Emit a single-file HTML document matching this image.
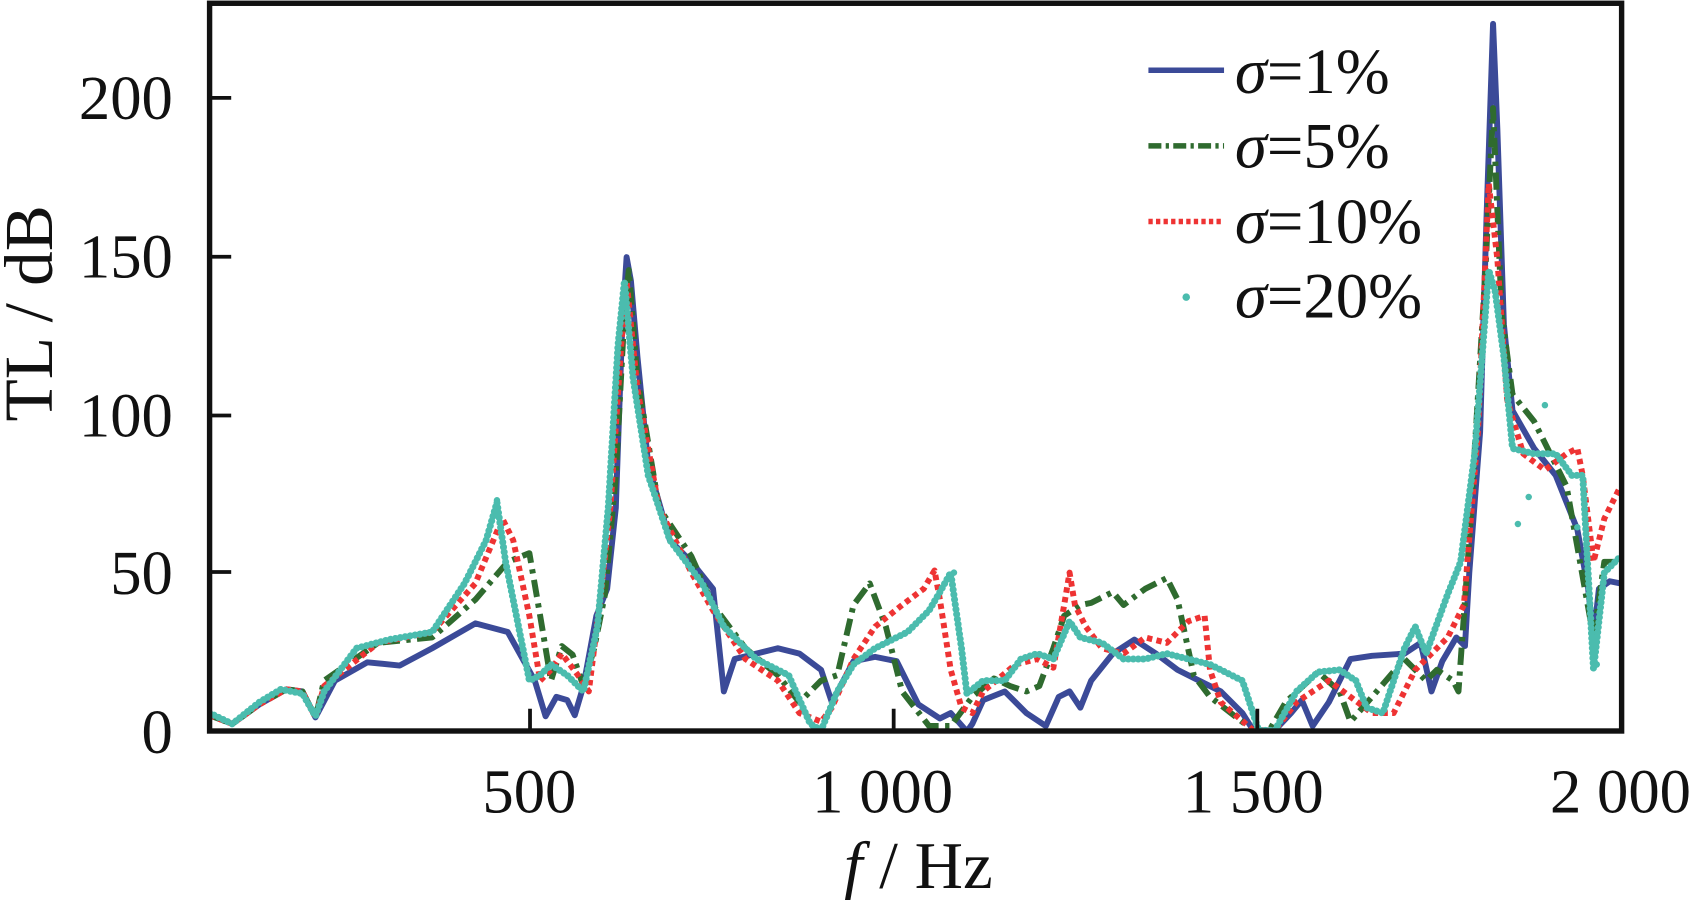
<!DOCTYPE html>
<html><head><meta charset="utf-8"><style>
html,body{margin:0;padding:0;background:#fff;}
svg{display:block;}
text{font-family:"Liberation Serif",serif;fill:#111;}
</style></head><body>
<svg width="1694" height="900" viewBox="0 0 1568 833" xmlns="http://www.w3.org/2000/svg">
<rect x="0" y="0" width="1568" height="833" fill="#fff"/>
<defs><clipPath id="c"><rect x="194" y="3" width="1307" height="674"/></clipPath></defs>
<g clip-path="url(#c)" fill="none" stroke-linejoin="round">
<polyline stroke="#3b4a98" stroke-width="5.5" points="194,662 215,670 240,652 265,638 280,640 292,664 310,630 340,613 370,616 400,600 440,577 470,585 495,630 505,663 515,645 525,648 532,662 540,635 552,570 562,545 570,470 576,300 580,238 584,260 590,330 600,430 620,500 640,520 660,545 670,640 680,610 700,605 720,600 740,605 760,620 770,650 790,612 810,608 830,612 850,652 870,665 880,660 895,677 900,670 910,648 930,640 950,660 968,672 980,645 990,640 1000,655 1010,630 1030,605 1050,592 1070,605 1090,620 1110,630 1130,640 1150,660 1160,676 1180,676 1195,660 1205,648 1215,672 1230,650 1250,610 1270,607 1300,605 1315,595 1325,640 1335,612 1348,590 1356,598 1360,530 1370,400 1376,200 1382,22 1386,120 1392,300 1400,380 1420,415 1440,440 1460,490 1470,545 1475,590 1480,545 1490,538 1500,540"/>
<polyline stroke="#2f6b2f" stroke-width="5.5" stroke-dasharray="16 6 4 6" points="194,662 215,670 240,652 265,638 280,640 292,664 300,630 350,595 400,590 440,555 470,520 490,512 500,570 510,630 520,598 530,606 540,635 550,600 560,550 570,440 578,290 582,250 590,350 610,470 640,515 660,560 690,600 720,625 740,650 760,630 775,625 790,560 805,540 820,580 835,640 860,672 880,672 900,645 920,628 935,635 950,640 962,635 975,600 985,570 1000,560 1010,558 1030,548 1040,560 1060,545 1080,535 1090,555 1105,625 1120,645 1160,676 1175,676 1190,650 1220,622 1240,640 1250,668 1270,645 1300,610 1320,630 1330,620 1345,630 1350,640 1360,500 1375,250 1382,100 1390,290 1400,365 1420,390 1450,450 1475,590 1485,520 1500,520"/>
<polyline stroke="#ee3333" stroke-width="5.5" stroke-dasharray="5 4" points="194,662 215,670 240,652 265,638 280,640 292,664 300,635 350,595 400,585 440,540 465,480 475,500 490,570 500,630 510,620 520,605 535,625 545,640 555,560 565,470 575,320 580,260 590,360 610,470 640,530 660,565 690,610 720,630 740,660 760,668 770,655 790,610 810,580 835,560 855,545 865,528 870,555 880,620 890,655 900,660 910,640 940,615 960,610 975,618 985,560 990,530 995,560 1005,580 1020,600 1040,605 1060,590 1080,595 1100,575 1115,570 1120,620 1130,650 1160,676 1180,676 1200,650 1230,630 1250,645 1270,660 1290,660 1310,620 1340,590 1355,560 1368,400 1378,170 1386,240 1395,370 1410,420 1430,435 1450,420 1460,415 1465,440 1475,520 1485,480 1500,450"/>
<polyline stroke="#4bbcae" stroke-width="6.5" stroke-linecap="round" stroke-dasharray="0.1 4.5" points="194,660 215,670 240,650 260,638 280,642 292,663 300,640 330,600 360,592 400,585 430,540 450,500 460,465 468,520 478,570 490,630 500,625 510,615 525,625 540,640 553,580 563,470 572,320 578,260 586,350 600,440 620,500 650,540 670,580 700,610 730,625 750,670 760,676 775,640 790,615 810,600 840,585 860,565 870,548 880,530 890,600 895,642 910,630 930,630 945,610 960,605 975,610 990,575 1000,590 1020,595 1040,610 1060,610 1080,605 1100,610 1120,615 1150,630 1165,676 1180,676 1200,640 1220,622 1240,620 1255,630 1265,655 1280,660 1300,600 1310,580 1320,605 1340,550 1352,520 1365,420 1378,250 1384,270 1392,330 1400,415 1420,420 1440,420 1455,440 1465,440 1475,620 1485,530 1500,515"/>
<g fill="#4bbcae" stroke="none"><circle cx="1430" cy="375" r="3"/><circle cx="1405" cy="485" r="3"/><circle cx="1415" cy="460" r="3"/><circle cx="1460" cy="488" r="3"/><circle cx="1478" cy="615" r="3"/><circle cx="460" cy="463" r="3"/><circle cx="883" cy="530" r="3"/></g>
</g>
<rect x="194" y="3" width="1307" height="673.6" fill="none" stroke="#111" stroke-width="5"/>
<g stroke="#111" stroke-width="3.5">
<line x1="194" y1="90.6" x2="214" y2="90.6"/><line x1="194" y1="237.6" x2="214" y2="237.6"/>
<line x1="194" y1="384.6" x2="214" y2="384.6"/><line x1="194" y1="529.4" x2="214" y2="529.4"/>
<line x1="490.6" y1="676.6" x2="490.6" y2="656"/><line x1="827.2" y1="676.6" x2="827.2" y2="656"/>
<line x1="1163.8" y1="676.6" x2="1163.8" y2="656"/>
</g>
<g font-size="58" text-anchor="end">
<text x="160" y="110">200</text><text x="160" y="257">150</text><text x="160" y="404">100</text>
<text x="160" y="550">50</text><text x="160" y="697">0</text>
</g>
<g font-size="58" text-anchor="middle">
<text x="490" y="752">500</text><text x="817" y="752">1 000</text><text x="1160" y="752">1 500</text><text x="1500" y="752">2 000</text>
</g>
<text x="0" y="0" font-size="64" text-anchor="middle" transform="translate(48,290) rotate(-90)">TL / dB</text>
<text x="850" y="822" font-size="62" text-anchor="middle"><tspan font-style="italic">f</tspan> / Hz</text>
<g font-size="60">
<line x1="1063" y1="65" x2="1133" y2="65" stroke="#3b4a98" stroke-width="5"/>
<line x1="1063" y1="135" x2="1133" y2="135" stroke="#2f6b2f" stroke-width="5" stroke-dasharray="12 4 3 4"/>
<line x1="1063" y1="205" x2="1133" y2="205" stroke="#ee3333" stroke-width="5" stroke-dasharray="4 3"/>
<circle cx="1098" cy="275" r="3.5" fill="#4bbcae"/>
<text x="1143" y="86"><tspan font-style="italic">σ</tspan>=1%</text>
<text x="1143" y="155"><tspan font-style="italic">σ</tspan>=5%</text>
<text x="1143" y="225"><tspan font-style="italic">σ</tspan>=10%</text>
<text x="1143" y="294"><tspan font-style="italic">σ</tspan>=20%</text>
</g>
</svg>
</body></html>
